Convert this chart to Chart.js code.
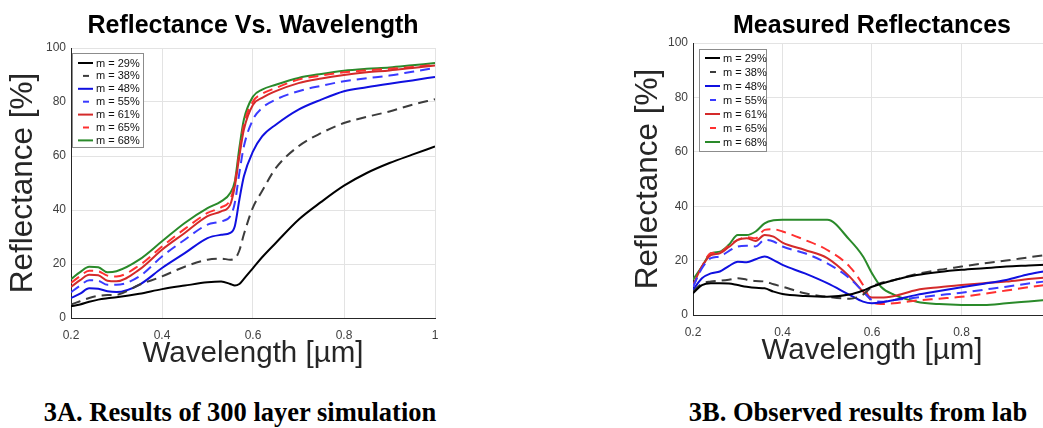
<!DOCTYPE html>
<html>
<head>
<meta charset="utf-8">
<script src="https://cdn.jsdelivr.net/npm/chart.js@4.4.1/dist/chart.umd.min.js"></script>
<style>
  html, body { margin: 0; padding: 0; background: #fff; width: 1043px; height: 428px; overflow: hidden; position: relative; }
  .plot { position: absolute; top: 0; }
  #simWrap { left: 0; }
  #labWrap { left: 625px; }
  .caption { position: absolute; top: 397px; font-family: "Liberation Serif", "Times New Roman", serif; font-weight: bold; font-size: 26.5px; color: #000; white-space: nowrap; transform: translateX(-50%); }
</style>
</head>
<body>
<div class="plot" id="simWrap"><canvas id="sim" width="506" height="372"></canvas></div>
<div class="plot" id="labWrap"><canvas id="lab" width="494" height="369"></canvas></div>
<div class="caption" style="left:240px">3A. Results of 300 layer simulation</div>
<div class="caption" style="left:858px">3B. Observed results from lab</div>
<script>
(function () {
  // ---- 3A: simulation ----
  const simWavelengths = [0.2, 0.22, 0.24, 0.26, 0.28, 0.3, 0.35, 0.4, 0.45, 0.5, 0.53, 0.55, 0.56, 0.57, 0.58, 0.6, 0.62, 0.65, 0.7, 0.75, 0.8, 0.85, 0.9, 0.95, 1.0];
  const sim29 = [4.3, 5.0, 6.0, 6.8, 7.3, 7.7, 9.0, 10.7, 12.0, 13.2, 13.5, 12.6, 12.0, 12.6, 14.5, 18.5, 22.5, 27.8, 36.4, 43.0, 49.0, 53.7, 57.4, 60.5, 63.5];
  const sim38 = [5.0, 6.2, 7.4, 8.2, 8.5, 8.6, 12.3, 15.4, 19.0, 21.6, 22.0, 21.6, 22.0, 25.0, 31.0, 41.0, 47.0, 55.5, 63.6, 68.5, 72.2, 74.5, 76.5, 79.0, 81.0];
  const sim48 = [7.4, 9.0, 11.0, 10.8, 9.9, 9.6, 12.3, 18.5, 24.0, 29.6, 30.8, 31.5, 34.0, 43.8, 52.5, 61.7, 67.3, 71.6, 77.2, 80.9, 84.0, 85.5, 86.8, 88.0, 89.3];
  const sim55 = [9.5, 12.0, 14.0, 13.8, 12.3, 12.3, 15.4, 22.8, 29.0, 34.6, 35.8, 37.7, 42.6, 53.7, 63.6, 73.5, 77.8, 80.9, 84.0, 86.0, 87.7, 88.8, 89.8, 91.2, 92.6];
  const sim61 = [11.5, 14.0, 16.0, 15.8, 13.8, 13.6, 17.9, 25.3, 31.5, 37.7, 39.5, 42.0, 48.8, 59.9, 69.8, 79.0, 81.5, 84.0, 87.0, 88.7, 90.0, 91.0, 91.7, 92.6, 93.5];
  const sim65 = [13.0, 15.5, 17.5, 17.3, 15.7, 15.4, 19.5, 26.5, 33.0, 38.9, 41.0, 43.8, 50.0, 61.0, 71.6, 80.2, 83.0, 85.2, 88.3, 89.8, 91.0, 91.7, 92.3, 93.0, 93.8];
  const sim68 = [14.4, 17.0, 19.0, 18.8, 16.9, 17.3, 21.6, 28.4, 35.2, 40.7, 43.2, 46.3, 50.6, 63.0, 73.5, 82.0, 84.6, 86.4, 88.9, 90.4, 91.6, 92.3, 92.8, 93.6, 94.4];

  // ---- 3B: lab measurements ----
  const labWavelengths = [0.2, 0.22, 0.24, 0.26, 0.28, 0.3, 0.32, 0.34, 0.36, 0.38, 0.4, 0.45, 0.5, 0.55, 0.58, 0.6, 0.62, 0.65, 0.7, 0.75, 0.8, 0.85, 0.9, 0.95, 1.0];
  const lab29 = [8.0, 11.0, 11.7, 11.7, 11.6, 11.0, 10.4, 10.0, 9.8, 8.6, 7.7, 7.0, 6.7, 7.5, 9.0, 10.4, 11.5, 12.9, 14.7, 15.8, 16.6, 17.2, 17.8, 18.2, 18.6];
  const lab38 = [8.6, 11.5, 12.3, 12.6, 13.0, 13.5, 13.0, 12.5, 12.3, 11.3, 10.4, 8.0, 6.7, 6.0, 7.5, 10.4, 11.8, 12.9, 15.1, 16.6, 17.8, 19.0, 20.0, 21.2, 22.3];
  const lab48 = [9.2, 13.5, 15.3, 16.0, 18.0, 19.6, 19.4, 20.5, 21.5, 20.2, 18.4, 15.3, 11.7, 7.4, 4.9, 4.3, 4.6, 5.5, 7.4, 8.8, 10.2, 11.5, 12.9, 15.0, 16.5];
  const lab55 = [10.4, 17.2, 20.9, 21.5, 23.5, 25.2, 25.5, 25.2, 27.6, 27.0, 25.2, 22.7, 19.0, 13.5, 8.6, 5.5, 4.9, 5.5, 6.4, 7.3, 8.2, 9.3, 10.4, 11.6, 12.6];
  const lab61 = [11.0, 17.8, 22.0, 22.7, 25.0, 27.6, 28.2, 27.2, 29.4, 28.8, 26.6, 23.9, 20.9, 14.1, 8.6, 6.4, 6.4, 7.0, 9.2, 10.2, 11.0, 11.7, 12.3, 13.2, 14.0];
  const lab65 = [10.4, 17.8, 22.7, 23.0, 25.5, 27.6, 28.6, 28.2, 31.3, 31.5, 30.7, 27.6, 23.9, 17.8, 11.0, 4.9, 4.0, 4.3, 5.3, 6.0, 6.7, 7.8, 9.0, 10.2, 11.3];
  const lab68 = [13.0, 17.8, 22.7, 23.3, 25.8, 29.4, 29.4, 30.7, 33.7, 34.8, 35.0, 35.0, 35.0, 27.6, 21.5, 15.3, 10.4, 7.4, 4.9, 4.0, 3.7, 3.7, 4.3, 5.0, 5.7];

  const seriesLabels = ['m = 29%', 'm = 38%', 'm = 48%', 'm = 55%', 'm = 61%', 'm = 65%', 'm = 68%'];
  const STYLES = [
    { color: '#000000', dash: [] },
    { color: '#3c3c3c', dash: [10, 6] },
    { color: '#1010e0', dash: [] },
    { color: '#3a3aff', dash: [10, 6] },
    { color: '#d42a2a', dash: [] },
    { color: '#ff3030', dash: [10, 6] },
    { color: '#2a8a2a', dash: [] },
  ];

  const SANS = '"Liberation Sans", Arial, Helvetica, sans-serif';
  const gridLine = '#e3e3e3';
  const axisLine = '#262626';
  const tickColor = '#404040';

  function buildDatasets(xs, series) {
    return series.map((ys, i) => ({
      label: seriesLabels[i],
      data: xs.map((x, j) => ({ x, y: ys[j] })),
      borderColor: STYLES[i].color,
      backgroundColor: STYLES[i].color,
      borderDash: STYLES[i].dash,
      borderWidth: 2,
      pointRadius: 0,
      cubicInterpolationMode: 'monotone',
      fill: false,
    }));
  }

  // MATLAB-style legend box drawn inside the plot area
  const insideLegend = {
    id: 'insideLegend',
    afterDatasetsDraw(chart, args, opts) {
      const c = chart.ctx, a = chart.chartArea;
      const x0 = a.left + opts.dx, y0 = a.top + opts.dy;
      c.save();
      c.fillStyle = '#fff';
      c.fillRect(x0, y0, opts.w, opts.h);
      c.strokeStyle = '#8c8c8c';
      c.lineWidth = 1;
      c.strokeRect(x0 + 0.5, y0 + 0.5, opts.w, opts.h);
      c.font = '11px ' + SANS;
      c.textBaseline = 'middle';
      chart.data.datasets.forEach((ds, i) => {
        const y = y0 + opts.first + i * opts.row;
        c.strokeStyle = ds.borderColor;
        c.lineWidth = 2;
        c.setLineDash([]);
        c.beginPath();
        if (ds.borderDash.length) {
          c.moveTo(x0 + 11, y); c.lineTo(x0 + 17, y);
        } else {
          c.moveTo(x0 + 6, y); c.lineTo(x0 + 21, y);
        }
        c.stroke();
        c.fillStyle = '#111';
        c.fillText(ds.label, x0 + 24, y + 0.5);
      });
      c.restore();
    },
  };

  function makeChart(id, xs, series, title, titlePad, yWidth, legend) {
    return new Chart(document.getElementById(id), {
      type: 'line',
      data: { datasets: buildDatasets(xs, series) },
      plugins: [insideLegend],
      options: {
        responsive: false,
        animation: false,
        layout: { padding: { left: 0, right: yWidth, top: 0, bottom: 0 } },
        scales: {
          x: {
            type: 'linear', min: 0.2, max: 1,
            ticks: {
              stepSize: 0.2, color: tickColor, padding: 10,
              font: { size: 12, family: SANS },
              callback: (v) => String(Number(v.toFixed(1))),
            },
            grid: { color: gridLine, drawTicks: false },
            border: { color: axisLine, width: 1 },
            title: { display: true, text: 'Wavelength [µm]', color: '#262626', font: { size: 29.5, family: SANS }, padding: { top: 0, bottom: 0 } },
            afterFit: (s) => { s.height = 54; },
          },
          y: {
            type: 'linear', min: 0, max: 100,
            ticks: { stepSize: 20, color: tickColor, padding: 5, font: { size: 12, family: SANS } },
            grid: { color: gridLine, drawTicks: false },
            border: { color: axisLine, width: 1 },
            title: { display: true, text: 'Reflectance [%]', color: '#262626', font: { size: 31.5, family: SANS }, padding: { top: 4, bottom: 0 } },
            afterFit: (s) => { s.width = yWidth; },
          },
        },
        plugins: {
          legend: { display: false },
          tooltip: { enabled: false },
          title: {
            display: true, text: title, color: '#000', fullSize: false,
            font: { size: 25, weight: 'bold', family: SANS },
            padding: titlePad,
          },
          insideLegend: legend,
        },
      },
    });
  }

  makeChart('sim', simWavelengths, [sim29, sim38, sim48, sim55, sim61, sim65, sim68],
    'Reflectance Vs. Wavelength', { top: 11, bottom: 7 }, 71,
    { dx: 1, dy: 5, w: 71, h: 94, first: 10, row: 12.9 });

  makeChart('lab', labWavelengths, [lab29, lab38, lab48, lab55, lab61, lab65, lab68],
    'Measured Reflectances', { top: 11, bottom: 2 }, 68,
    { dx: 6, dy: 6, w: 67, h: 102, first: 9, row: 14 });
})();
</script>
</body>
</html>
